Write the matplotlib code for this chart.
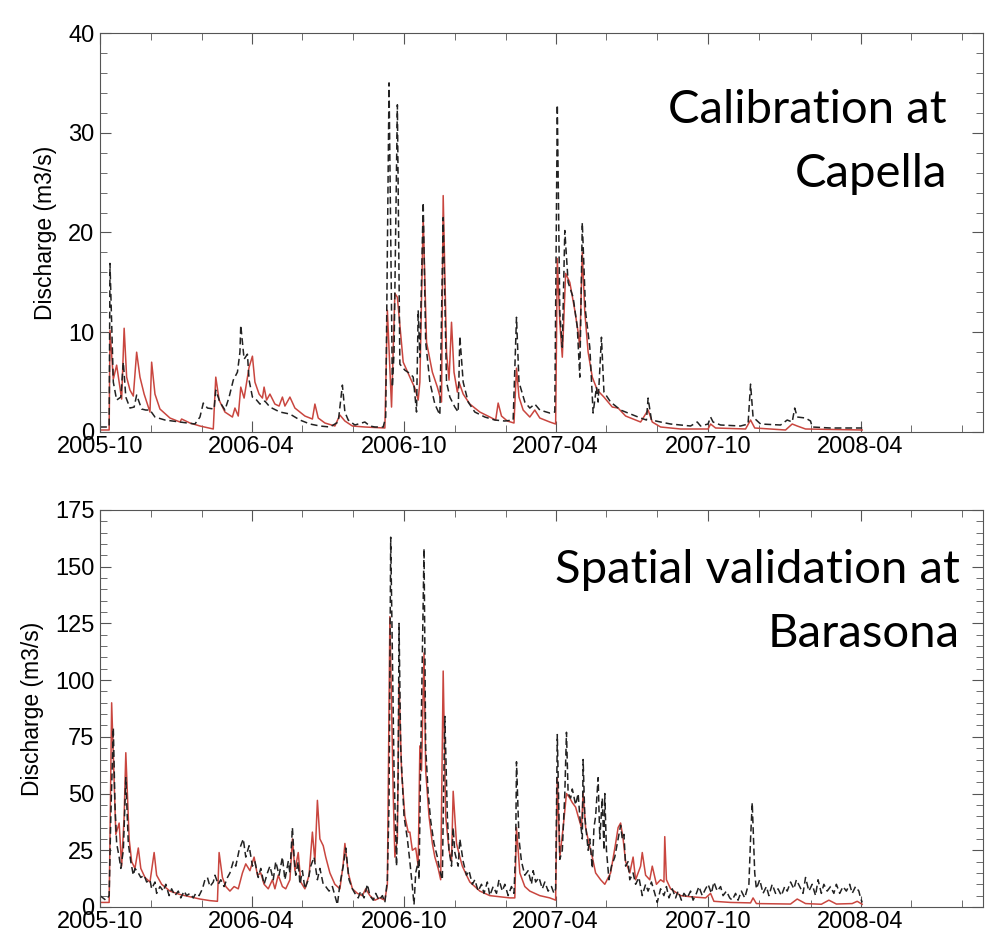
import numpy as np
import matplotlib
matplotlib.use('Agg')
import matplotlib.pyplot as plt
import matplotlib.dates as mdates

# day offsets from 2005-10-01 and discharge (m3/s)
start = np.datetime64('2005-10-01')

cap_obs_days = [0, 11, 12, 16, 20, 25, 28, 31, 36, 41, 44, 50, 55, 60, 66, 78, 96, 114, 120, 124,
                129, 137, 139, 144, 150, 155, 160, 165, 168, 169, 173, 177, 179, 183, 187, 192, 198,
                204, 216, 228, 240, 252, 264, 276, 286, 291, 294, 298, 306, 318, 324, 330, 340, 343,
                347, 351, 353, 357, 360, 366, 373, 376, 380, 382, 384, 388, 391, 396, 402, 408, 412,
                416, 420, 426, 430, 432, 436, 442, 450, 462, 474, 486, 496, 500, 503, 510, 516, 522,
                528, 540, 546, 549, 552, 555, 558, 562, 568, 573, 576, 579, 583, 588, 592, 596, 598,
                602, 605, 613, 625, 637, 649, 656, 658, 662, 673, 685, 709, 717, 721, 730, 733, 736,
                745, 769, 778, 781, 784, 793, 817, 825, 831, 834, 837, 847, 853, 855, 877, 915]
cap_obs_q = [0.5, 0.5, 16.9, 5.0, 3.2, 3.5, 7.0, 3.5, 2.4, 2.5, 3.7, 2.3, 2.2, 2.2, 1.5, 1.2, 1.0, 0.8,
             1.5, 2.9, 2.4, 2.3, 4.2, 3.0, 2.2, 3.5, 5.2, 6.0, 8.0, 10.7, 7.3, 7.8, 5.2, 3.5, 3.3, 2.8,
             3.1, 2.5, 2.0, 1.8, 1.2, 0.8, 0.6, 0.5, 1.0, 4.7, 2.0, 1.2, 0.7, 1.0, 0.6, 0.5, 0.5, 1.5,
             35.0, 4.5, 8.0, 32.8, 6.8, 6.2, 5.8, 5.5, 2.0, 12.2, 7.5, 23.0, 9.0, 5.0, 2.8, 1.7, 21.5,
             5.0, 3.5, 2.5, 2.0, 9.6, 5.0, 3.0, 2.0, 1.5, 1.2, 1.1, 1.2, 11.5, 5.0, 3.0, 2.4, 2.8,
             2.2, 1.9, 2.0, 32.8, 12.0, 8.5, 20.2, 15.0, 13.5, 10.5, 5.5, 21.0, 12.0, 8.5, 1.9, 4.5,
             3.0, 9.5, 4.0, 3.0, 2.2, 1.8, 1.4, 1.2, 3.4, 1.2, 1.0, 0.8, 0.6, 1.0, 0.6, 0.8, 1.5, 1.0,
             0.7, 0.6, 0.8, 4.8, 1.5, 0.8, 0.7, 1.2, 1.0, 2.4, 1.5, 1.4, 1.1, 0.5, 0.4, 0.4]

cap_sim_days = [0, 11, 12, 16, 20, 26, 29, 32, 36, 40, 44, 48, 53, 60, 62, 66, 72, 84, 96, 98, 108,
                120, 136, 139, 143, 150, 159, 162, 166, 169, 173, 179, 183, 186, 191, 195, 197, 200,
                204, 210, 215, 219, 222, 228, 234, 246, 255, 258, 262, 270, 282, 288, 294, 303, 318,
                342, 345, 350, 354, 357, 364, 372, 378, 382, 384, 388, 392, 399, 405, 410, 412, 416,
                419, 422, 425, 429, 431, 436, 444, 456, 468, 475, 478, 482, 489, 497, 500, 503, 508,
                516, 522, 528, 540, 547, 549, 552, 555, 559, 564, 570, 574, 576, 579, 582, 586, 591,
                597, 605, 615, 622, 631, 649, 658, 663, 673, 697, 730, 733, 739, 775, 781, 786, 823,
                831, 837, 847, 915]
cap_sim_q = [0.2, 0.2, 10.2, 5.3, 6.7, 3.3, 10.4, 5.5, 4.2, 3.6, 8.0, 5.5, 3.8, 2.0, 7.0, 3.8, 2.3,
             1.4, 1.0, 1.3, 0.9, 0.6, 0.3, 5.5, 3.2, 2.0, 1.5, 2.4, 1.6, 4.5, 3.4, 6.5, 7.6, 5.0, 3.8,
             3.4, 4.5, 3.2, 3.8, 2.8, 2.6, 3.5, 2.6, 3.5, 2.4, 1.6, 1.3, 2.8, 1.4, 0.9, 0.6, 1.7, 1.1,
             0.6, 0.5, 0.4, 12.2, 2.5, 13.9, 13.5, 7.0, 5.5, 4.4, 3.2, 5.0, 21.5, 9.0, 6.0, 4.5, 3.0,
             23.7, 8.0, 5.2, 11.0, 6.0, 4.0, 5.0, 3.8, 2.8, 2.0, 1.5, 1.2, 2.9, 1.6, 1.1, 0.9, 6.4,
             3.5, 2.2, 1.5, 2.2, 1.4, 1.0, 0.8, 17.4, 11.0, 7.5, 15.9, 15.0, 12.2, 10.0, 8.5, 18.0,
             12.0, 8.0, 5.5, 4.2, 3.5, 2.5, 2.4, 1.6, 1.0, 2.2, 1.0, 0.5, 0.3, 0.3, 0.8, 0.4, 0.3,
             1.2, 0.4, 0.2, 0.8, 0.6, 0.3, 0.2]

bar_obs_days = [0, 7, 11, 13, 16, 18, 20, 23, 25, 28, 29, 31, 34, 37, 40, 42, 46, 49, 53, 56, 60, 62,
                66, 68, 72, 76, 79, 83, 86, 90, 94, 97, 101, 104, 108, 112, 115, 119, 123, 126, 129,
                132, 136, 138, 142, 145, 149, 153, 156, 160, 163, 167, 172, 175, 179, 183, 186, 190,
                193, 197, 201, 204, 208, 211, 215, 219, 222, 226, 228, 231, 233, 235, 238, 240, 243,
                246, 250, 253, 257, 261, 264, 268, 271, 275, 279, 282, 285, 288, 292, 295, 299, 303,
                306, 310, 313, 317, 321, 324, 328, 331, 335, 339, 342, 345, 347, 349, 353, 356, 358,
                359, 361, 365, 369, 372, 375, 377, 379, 382, 383, 385, 387, 389, 391, 394, 397, 401,
                405, 408, 411, 412, 414, 417, 419, 422, 424, 426, 430, 432, 436, 440, 443, 447, 450,
                454, 458, 461, 465, 468, 472, 476, 479, 483, 486, 490, 494, 497, 499, 500, 503, 506,
                510, 514, 518, 520, 523, 527, 531, 534, 538, 542, 545, 547, 549, 551, 552, 555, 558,
                560, 562, 565, 567, 571, 574, 576, 579, 580, 582, 586, 588, 591, 593, 595, 598, 600,
                603, 605, 606, 608, 611, 614, 618, 622, 625, 627, 629, 631, 634, 636, 640, 643, 647,
                651, 655, 658, 662, 666, 669, 673, 677, 680, 683, 687, 691, 694, 698, 701, 705, 709,
                712, 716, 719, 723, 727, 730, 734, 737, 741, 745, 748, 752, 756, 759, 763, 766, 770,
                774, 777, 779, 781, 783, 786, 788, 792, 796, 800, 803, 807, 811, 814, 818, 822, 825,
                829, 833, 836, 840, 844, 847, 851, 855, 859, 862, 866, 869, 873, 877, 881, 884, 888,
                892, 896, 900, 903, 907, 911, 913, 915]
bar_obs_q = [5, 3, 5, 40, 79, 45, 28, 22, 17, 25, 35, 57, 28, 20, 14, 17, 15, 13, 14, 11, 12, 8, 11, 6,
             9, 7, 10, 5, 8, 5, 7, 4, 7, 5, 6, 4, 6, 5, 8, 12, 13, 9, 11, 14, 10, 12, 9, 13, 15, 20,
             18, 25, 30, 22, 27, 18, 20, 13, 17, 10, 15, 18, 12, 20, 14, 22, 12, 20, 15, 35, 22, 14,
             20, 10, 16, 8, 12, 18, 22, 12, 17, 10, 9, 7, 9, 5, 1, 10, 18, 26, 12, 8, 6, 4, 7, 4, 10,
             5, 3, 6, 3, 5, 2, 12, 46, 163, 60, 18, 60, 125, 70, 40, 30, 20, 9, 1, 15, 20, 12, 65,
             110, 158, 70, 50, 38, 28, 22, 16, 12, 40, 84, 40, 25, 18, 35, 24, 18, 30, 20, 14, 16,
             10, 12, 7, 10, 6, 11, 5, 9, 6, 12, 7, 10, 5, 9, 6, 25, 64, 30, 20, 14, 16, 10, 16, 11,
             13, 8, 11, 7, 9, 6, 8, 76, 40, 21, 25, 50, 77, 50, 48, 52, 45, 50, 40, 30, 65, 40, 25,
             30, 17, 35, 40, 57, 30, 48, 25, 50, 25, 12, 18, 22, 30, 36, 30, 32, 18, 20, 12, 15, 10,
             13, 5, 10, 7, 11, 6, 2, 8, 5, 9, 4, 8, 4, 7, 3, 6, 4, 7, 3, 6, 9, 5, 8, 10, 6, 11, 7, 9,
             5, 7, 4, 3, 6, 3, 7, 4, 8, 10, 30, 46, 15, 8, 12, 6, 9, 5, 10, 6, 8, 5, 9, 7, 11, 8, 12,
             9, 6, 13, 7, 10, 5, 12, 6, 10, 7, 9, 6, 10, 6, 9, 7, 10, 6, 9, 7, 4, 2]

bar_sim_days = [0, 11, 12, 14, 17, 19, 23, 26, 29, 31, 35, 38, 42, 46, 49, 54, 60, 65, 68, 74, 84, 96,
                108, 120, 132, 141, 143, 147, 151, 156, 161, 166, 171, 175, 180, 185, 189, 193, 197,
                202, 207, 210, 214, 219, 223, 228, 231, 234, 238, 241, 246, 251, 255, 258, 261, 264,
                268, 271, 276, 282, 288, 292, 294, 298, 303, 309, 315, 319, 324, 330, 336, 342, 345,
                348, 352, 354, 357, 359, 362, 366, 370, 372, 375, 379, 382, 384, 386, 389, 391, 395,
                399, 402, 406, 409, 412, 415, 419, 422, 424, 428, 432, 435, 440, 444, 450, 456, 468,
                480, 492, 498, 500, 504, 510, 516, 528, 540, 547, 549, 552, 556, 560, 564, 567, 571,
                574, 578, 580, 583, 587, 591, 595, 601, 606, 613, 619, 622, 625, 628, 631, 636, 640,
                643, 649, 651, 655, 660, 663, 668, 673, 677, 678, 680, 685, 697, 709, 727, 733, 737,
                757, 781, 784, 788, 829, 837, 847, 866, 875, 884, 903, 909, 915]
bar_sim_q = [2, 2, 30, 90, 55, 32, 37, 18, 40, 68, 30, 20, 17, 26, 17, 13, 11, 24, 14, 10, 7, 5.5,
             4.5, 3.5, 2.8, 2.5, 24, 13, 9, 7, 9, 8, 15, 19, 16, 22, 14, 15, 10, 8, 12, 8, 14, 9, 8,
             12, 30, 16, 24, 11, 8, 14, 33, 20, 47, 30, 27, 22, 15, 10, 8, 19, 28, 15, 8, 6, 5, 8, 5,
             3, 4, 3, 10, 128, 50, 22, 30, 99, 60, 40, 33, 33, 25, 26, 18, 71, 60, 112, 60, 40, 28,
             22, 17, 12, 104, 40, 25, 20, 51, 28, 22, 18, 14, 11, 9, 7, 5, 4.5, 4, 4, 35, 15, 9, 7,
             5, 4, 3, 57, 22, 35, 50, 48, 46, 44, 40, 35, 50, 35, 28, 22, 15, 12, 10, 15, 28, 35,
             37, 30, 20, 15, 22, 12, 18, 24, 14, 12, 18, 10, 12, 11, 31, 12, 8, 5, 4.5, 4, 6, 2.5, 2,
             1.8, 4, 1.5, 1.3, 3.5, 1.5, 1.2, 3, 1.3, 1.5, 2.5, 1.2]

plt.rcParams['font.family'] = ['Liberation Sans', 'DejaVu Sans']

fig = plt.figure(figsize=(9.89, 9.43), dpi=100)
ax_top = fig.add_axes([0.1011, 0.5419, 0.8928, 0.4231])
ax_bot = fig.add_axes([0.1011, 0.0382, 0.8928, 0.4210])

red = '#c9463f'


def to_dates(days):
    return start + np.array(days).astype('timedelta64[D]')


def draw_panel(ax, obs_days, obs_q, sim_days, sim_q, ymax, ymajor, yminor):
    ax.plot(to_dates(sim_days), sim_q, color=red, lw=1.1)
    ax.plot(to_dates(obs_days), obs_q, color='#222222', lw=1.1, dashes=(4.5, 2.5))
    ax.set_xlim(np.datetime64('2005-10-01'), np.datetime64('2008-08-26'))
    ax.set_ylim(0, ymax)
    ax.set_yticks(np.arange(0, ymax + 1, ymajor))
    ax.set_yticks(np.arange(0, ymax + 1, yminor), minor=True)
    ax.xaxis.set_major_locator(mdates.MonthLocator(bymonth=[4, 10]))
    ax.xaxis.set_minor_locator(mdates.MonthLocator(bymonth=[2, 6, 8, 12]))
    ax.xaxis.set_major_formatter(mdates.DateFormatter('%Y-%m'))
    ax.tick_params(which='both', direction='in', top=True, right=True, color='#555555')
    ax.tick_params(which='major', length=8, labelsize=17, pad=4)
    ax.tick_params(which='minor', length=5)
    ax.tick_params(axis='x', which='major', pad=3)
    for s in ax.spines.values():
        s.set_color('#555555')
    ax.set_ylabel('Discharge (m3/s)', fontsize=16.5, labelpad=8)


draw_panel(ax_top, cap_obs_days, cap_obs_q, cap_sim_days, cap_sim_q, 40, 10, 2)
draw_panel(ax_bot, bar_obs_days, bar_obs_q, bar_sim_days, bar_sim_q, 175, 25, 5)

big = dict(family=['Lato', 'DejaVu Sans'], fontsize=34, ha='right', va='baseline')
fig.text(0.9575, 0.8696, 'Calibration at', **big)
fig.text(0.9575, 0.8017, 'Capella', **big)
fig.text(0.9707, 0.3818, 'Spatial validation at', **big)
fig.text(0.9707, 0.3139, 'Barasona', **big)

fig.savefig('out.png', dpi=100)
